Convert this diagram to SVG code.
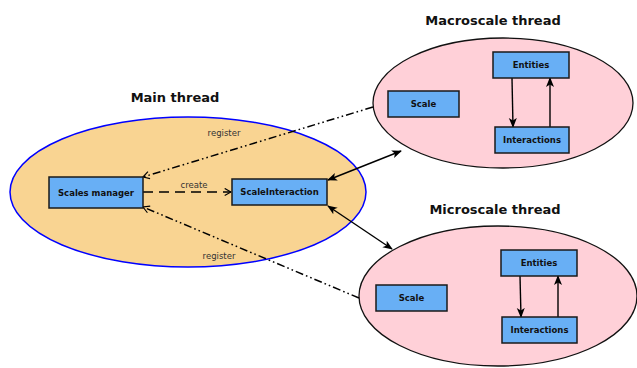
<svg xmlns="http://www.w3.org/2000/svg" width="637" height="368" viewBox="0 0 637 368">
<defs>
<style>
.title{font-family:"DejaVu Sans",sans-serif;font-weight:bold;font-size:13px;fill:#111;text-anchor:middle}
.box{fill:#68aff5;stroke:#1a1a1a;stroke-width:1.5}
.bl{font-family:"DejaVu Sans",sans-serif;font-weight:bold;font-size:8.5px;fill:#111;text-anchor:middle}
.lbl{font-family:"DejaVu Sans",sans-serif;font-size:8.5px;fill:#333;text-anchor:middle}
.solid{fill:none;stroke:#000;stroke-width:1.4}
.dd{fill:none;stroke:#000;stroke-width:1.5;stroke-dasharray:8,3,1.6,3,1.6,3}
.dash{fill:none;stroke:#000;stroke-width:1.4;stroke-dasharray:10,6}
</style>
<marker id="ah" viewBox="0 0 10 10" refX="9" refY="5" markerWidth="10" markerHeight="10" markerUnits="userSpaceOnUse" orient="auto-start-reverse">
<path d="M0,1 L10,5 L0,9 L2.5,5 Z" fill="#000"/>
</marker>
<marker id="open" viewBox="0 0 10 10" refX="9" refY="5" markerWidth="9" markerHeight="9" markerUnits="userSpaceOnUse" orient="auto">
<path d="M2,1 L9,5 L2,9" fill="none" stroke="#000" stroke-width="1.3"/>
</marker>
</defs>

<g id="main-thread">
<ellipse cx="188" cy="192" rx="178" ry="75" fill="#f9d492" stroke="#0000ff" stroke-width="1.5"/>
<text class="title" x="175" y="102">Main thread</text>
</g>
<g id="macro-thread">
<ellipse cx="503" cy="103" rx="130" ry="65" fill="#ffd0d8" stroke="#111" stroke-width="1.3"/>
<text class="title" x="493" y="25">Macroscale thread</text>
</g>
<g id="micro-thread">
<ellipse cx="498" cy="296" rx="139" ry="70" fill="#ffd0d8" stroke="#111" stroke-width="1.3"/>
<text class="title" x="495" y="214">Microscale thread</text>
</g>

<g id="connectors">
<line class="dash" x1="143" y1="192" x2="231" y2="192" marker-end="url(#open)"/>
<text class="lbl" x="194" y="188">create</text>
<line class="dd" x1="373" y1="107" x2="143" y2="177" marker-end="url(#open)"/>
<text class="lbl" x="224" y="136">register</text>
<line class="dd" x1="359" y1="298" x2="143" y2="207" marker-end="url(#open)"/>
<text class="lbl" x="219" y="259">register</text>
<line class="solid" x1="328" y1="180" x2="401" y2="151" marker-start="url(#ah)" marker-end="url(#ah)"/>
<line class="solid" x1="328" y1="206" x2="392" y2="249" marker-start="url(#ah)" marker-end="url(#ah)"/>
<line class="solid" x1="512" y1="78" x2="513" y2="127" marker-end="url(#ah)"/>
<line class="solid" x1="550" y1="127" x2="550" y2="78" marker-end="url(#ah)"/>
<line class="solid" x1="520" y1="276" x2="521" y2="317" marker-end="url(#ah)"/>
<line class="solid" x1="558" y1="317" x2="558" y2="276" marker-end="url(#ah)"/>
</g>

<g id="scales-manager"><rect class="box" x="49" y="177" width="94" height="31"/><text class="bl" x="96" y="195.5">Scales manager</text></g>
<g id="scale-interaction"><rect class="box" x="232" y="179" width="95" height="26"/><text class="bl" x="279.5" y="195">ScaleInteraction</text></g>
<g id="macro-scale"><rect class="box" x="388" y="91" width="71" height="26"/><text class="bl" x="423.5" y="107">Scale</text></g>
<g id="macro-entities"><rect class="box" x="493" y="52" width="76" height="26"/><text class="bl" x="531" y="68">Entities</text></g>
<g id="macro-interactions"><rect class="box" x="495" y="127" width="74" height="26"/><text class="bl" x="532" y="143">Interactions</text></g>
<g id="micro-scale"><rect class="box" x="376" y="285" width="71" height="26"/><text class="bl" x="411.5" y="301">Scale</text></g>
<g id="micro-entities"><rect class="box" x="501" y="250" width="76" height="26"/><text class="bl" x="539" y="266">Entities</text></g>
<g id="micro-interactions"><rect class="box" x="502" y="317" width="75" height="26"/><text class="bl" x="539.5" y="333">Interactions</text></g>
</svg>
